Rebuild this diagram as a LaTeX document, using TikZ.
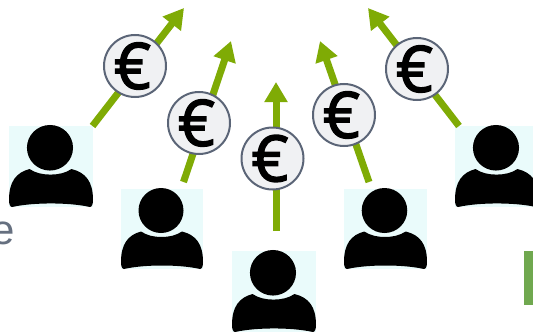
\documentclass[tikz,border=0pt]{standalone}
\usepackage{fontspec}
\setmainfont{Liberation Sans}
\newfontfamily\eurofont[FakeBold=2.2]{Open Sans}
\usetikzlibrary{arrows.meta}
\definecolor{arrowgreen}{HTML}{7FAB05}
\definecolor{barGreen}{HTML}{70A84F}
\definecolor{ringgrey}{HTML}{5B6577}
\definecolor{coinfill}{HTML}{F0F1F3}
\definecolor{boxcyan}{HTML}{EAFBFB}
\definecolor{textgrey}{HTML}{667080}
\tikzset{
  personbox/.style={fill=boxcyan,draw=none,inner sep=0pt,outer sep=0pt,anchor=north west,minimum width=82pt,minimum height=80pt},
  pics/person/.style={code={
    \fill[black] (40,21.5) circle[radius=22.5];
    \fill[black] (3,80) .. controls (1,80) and (0,77) .. (0,73)
      .. controls (0,55) and (7,46) .. (20,42.5)
      .. controls (26,46.5) and (33,48) .. (40.5,48)
      .. controls (48,48) and (55,46.5) .. (61,42.5)
      .. controls (75,46) and (82,55) .. (82,73)
      .. controls (82,77) and (81,80) .. (79,80)
      .. controls (68,77.5) and (54,76.5) .. (41,76.5)
      .. controls (28,76.5) and (14,77.5) .. (3,80) -- cycle;
  }},
  flow/.style={draw=arrowgreen,line width=7pt,-{Triangle[length=20pt,width=22pt]}},
  coin/.style={circle,draw=ringgrey,fill=coinfill,line width=2pt,minimum size=62pt,inner sep=0pt,font=\eurofont\fontsize{64}{64}\selectfont},
}
\newcommand{\eurosign}{\makebox[30pt][c]{\hspace*{-5pt}€}}
\begin{document}
\begin{tikzpicture}[x=1pt,y=-1pt]
\useasboundingbox (0,0) rectangle (533,332);
\clip (0,0) rectangle (533,332);
\node[anchor=west,text=textgrey,font=\fontsize{42}{42}\selectfont,inner sep=0pt] (label) at (-9,233) {e};
\fill[barGreen] (524,251) rectangle (533,305);
% people
\node[personbox,minimum width=84pt,minimum height=81pt] (p1) at (9,126) {};
\node[personbox] (p2) at (121,189) {};
\node[personbox,minimum width=84pt,minimum height=81pt] (p3) at (232,251) {};
\node[personbox,minimum width=83pt] (p4) at (344,189) {};
\node[personbox,minimum width=84pt,minimum height=81pt] (p5) at (455,126) {};
\pic[xscale=84/82,yscale=81/80] at (p1.north west) {person};
\pic at (p2.north west) {person};
\pic[xscale=84/82,yscale=81/80] at (p3.north west) {person};
\pic[xscale=83/82] at (p4.north west) {person};
\pic[xscale=84/82,yscale=81/80] at (p5.north west) {person};
% arrow ends
\coordinate (s1) at (92.5,126);
\coordinate (t1) at (184,8);
\coordinate (s2) at (183.5,182);
\coordinate (t2) at (231,41);
\coordinate (s3) at (276,231);
\coordinate (t3) at (276,82);
\coordinate (s4) at (369,182);
\coordinate (t4) at (320,41);
\coordinate (s5) at (459,126);
\coordinate (t5) at (368,8);
\draw[flow] (s1) -- (t1);
\draw[flow] (s2) -- (t2);
\draw[flow] (s3) -- (t3);
\draw[flow] (s4) -- (t4);
\draw[flow] (s5) -- (t5);
% coins
\node[coin] (c1) at (135,66) {\eurosign};
\node[coin] (c2) at (199,123) {\eurosign};
\node[coin] (c3) at (272.5,158.5) {\eurosign};
\node[coin] (c4) at (344,115) {\eurosign};
\node[coin] (c5) at (417,69) {\eurosign};
\end{tikzpicture}
\end{document}
